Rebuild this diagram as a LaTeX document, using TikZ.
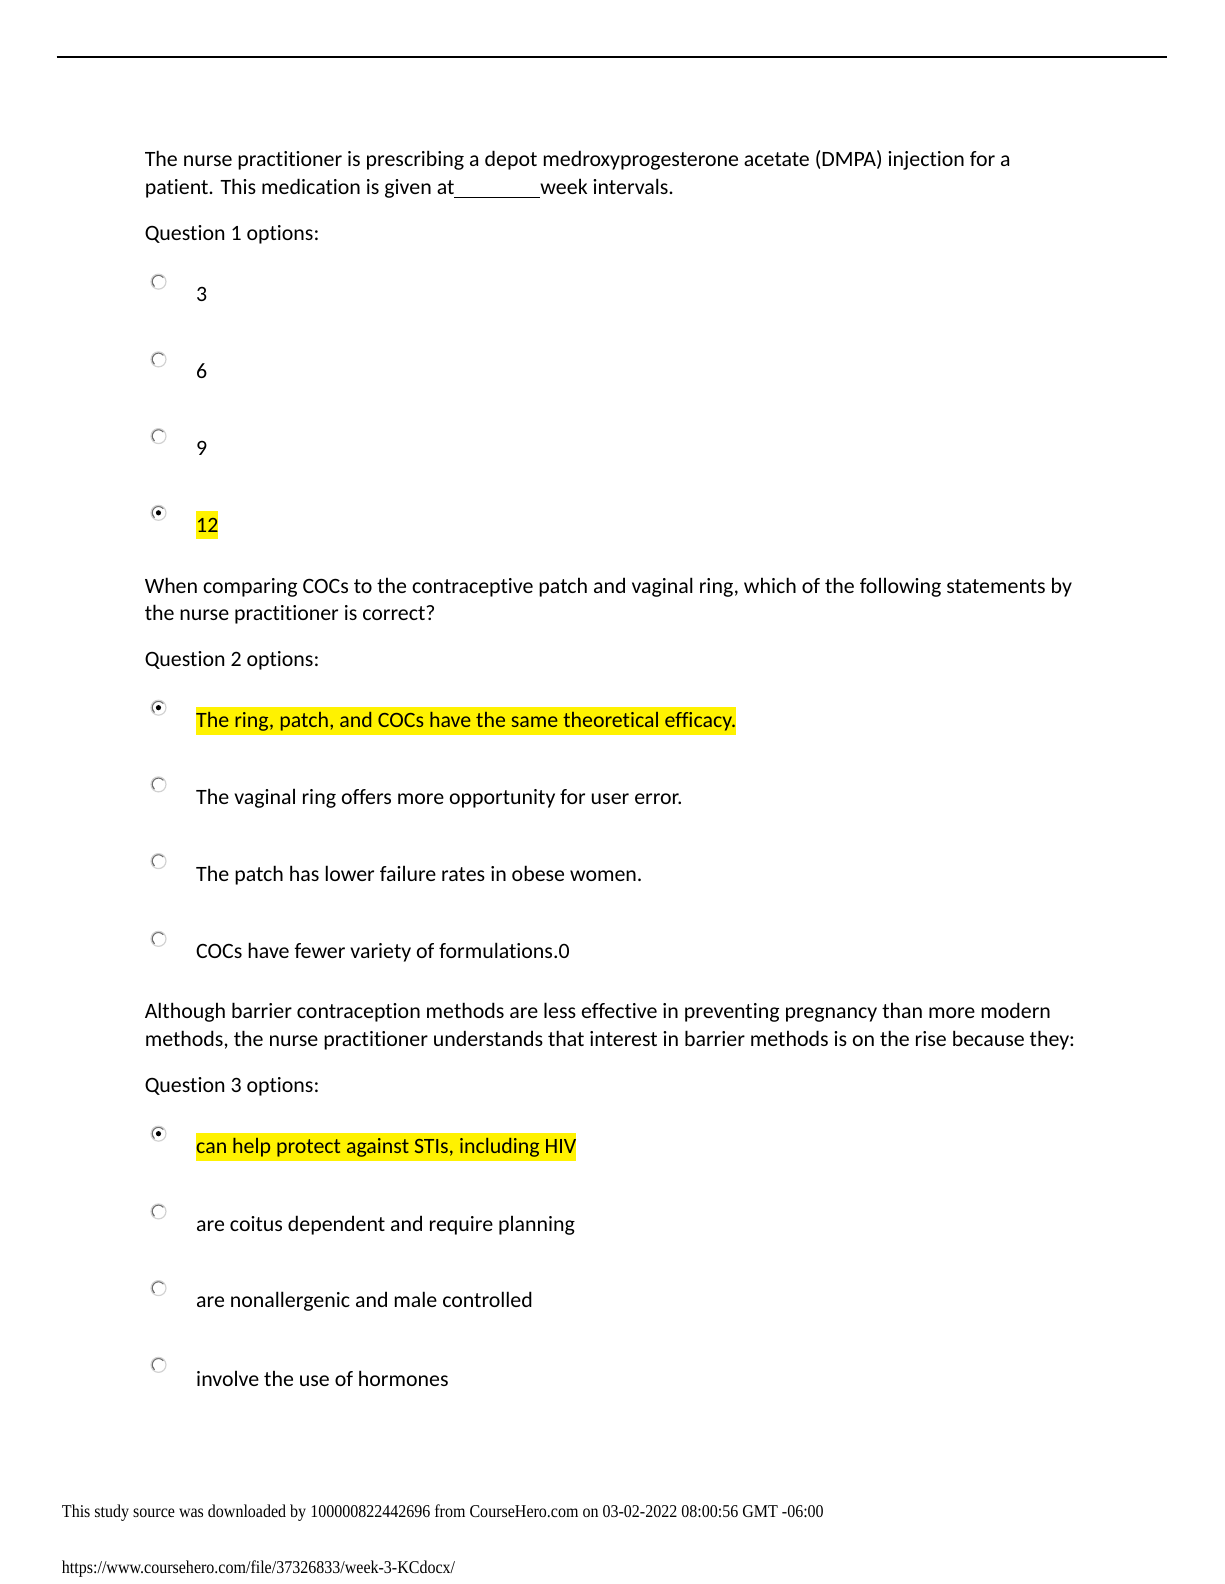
\documentclass[tikz,border=0pt]{standalone}
\usepackage{fontspec}
\setmainfont[Ligatures=NoCommon]{Carlito}
\newfontfamily\footfont{Liberation Serif}
\usetikzlibrary{positioning}
\tikzset{line/.style={draw, line width=1pt}}
\newcommand{\hlstrut}{\rule[-3.5pt]{0pt}{14pt}}
\newcommand{\footline}[1]{\scalebox{0.89}[1]{#1}}

\begin{document}
\begin{tikzpicture}[x=0.50475pt,y=-0.50475pt]
\tikzstyle{para} = [anchor=base west, inner sep=0pt, font=\fontsize{10.95}{14}\selectfont]
\tikzstyle{choice} = [para]
\tikzstyle{picked} = [para, fill=yellow]
\tikzstyle{radio} = [circle, draw=gray!35, line width=0.6pt, fill=white, minimum size=7.5pt, inner sep=0pt,
    path picture={\draw [gray!85!black, line width=0.8pt] (path picture bounding box.center) ++(40:3.3pt) arc (40:230:3.3pt);}]
\tikzstyle{dot} = [circle, fill=black, minimum size=2.6pt, inner sep=0pt]
\tikzstyle{foot} = [anchor=base west, inner sep=0pt, font=\footfont\fontsize{9}{11}\selectfont]

\useasboundingbox (0,0) rectangle (1212.5,1569.1);
% top rule
    \coordinate (rule left) at (56,56);
    \coordinate (rule right) at (1156,56);
    \path [line] (rule left) -- (rule right);
% question 1
    \node [para] (q1 line1) at (143,165) {The nurse practitioner is prescribing a depot medroxyprogesterone acetate (DMPA) injection for a};
    \node [para] (q1 line2) at (143,193) {patient. This medication is given at\rule[-1.6pt]{43pt}{0.5pt}week intervals.};
    \node [para] (q1 label) at (143,238) {Question 1 options:};
    \node [radio] (r11) at (157,279) {};
    \node [radio] (r12) at (157,356) {};
    \node [radio] (r13) at (157,432) {};
    \node [radio] (r14) at (157,508) {};
    \node [dot] at (r14) {};
    \node [choice] (o11) at (194,299) {3};
    \node [choice] (o12) at (194,375) {6};
    \node [choice] (o13) at (194,451) {9};
    \node [picked] (o14) at (194,527) {\hlstrut 12};
% question 2
    \node [para] (q2 line1) at (143,588) {When comparing COCs to the contraceptive patch and vaginal ring, which of the following statements by};
    \node [para] (q2 line2) at (143,615) {the nurse practitioner is correct?};
    \node [para] (q2 label) at (143,660) {Question 2 options:};
    \node [radio] (r21) at (157,701) {};
    \node [radio] (r22) at (157,777) {};
    \node [radio] (r23) at (157,853) {};
    \node [radio] (r24) at (157,930) {};
    \node [dot] at (r21) {};
    \node [picked] (o21) at (194,721) {\hlstrut The ring, patch, and COCs have the same theoretical efficacy.};
    \node [choice] (o22) at (194,797) {The vaginal ring offers more opportunity for user error.};
    \node [choice] (o23) at (194,873) {The patch has lower failure rates in obese women.};
    \node [choice] (o24) at (194,949) {COCs have fewer variety of formulations.0};
% question 3
    \node [para] (q3 line1) at (143,1009) {Although barrier contraception methods are less effective in preventing pregnancy than more modern};
    \node [para] (q3 line2) at (143,1037) {methods, the nurse practitioner understands that interest in barrier methods is on the rise because they:};
    \node [para] (q3 label) at (143,1082) {Question 3 options:};
    \node [radio] (r31) at (157,1123) {};
    \node [radio] (r32) at (157,1200) {};
    \node [radio] (r33) at (157,1276) {};
    \node [radio] (r34) at (157,1352) {};
    \node [dot] at (r31) {};
    \node [picked] (o31) at (194,1143) {\hlstrut can help protect against STIs, including HIV};
    \node [choice] (o32) at (194,1220) {are coitus dependent and require planning};
    \node [choice] (o33) at (194,1295) {are nonallergenic and male controlled};
    \node [choice] (o34) at (194,1373) {involve the use of hormones};
% footer
    \node [foot] (source) at (61,1503) {\footline{This study source was downloaded by 100000822442696 from CourseHero.com on 03-02-2022 08:00:56 GMT -06:00}};
    \node [foot] (url) at (61,1559) {\footline{https://www.coursehero.com/file/37326833/week-3-KCdocx/}};
\end{tikzpicture}
\end{document}
